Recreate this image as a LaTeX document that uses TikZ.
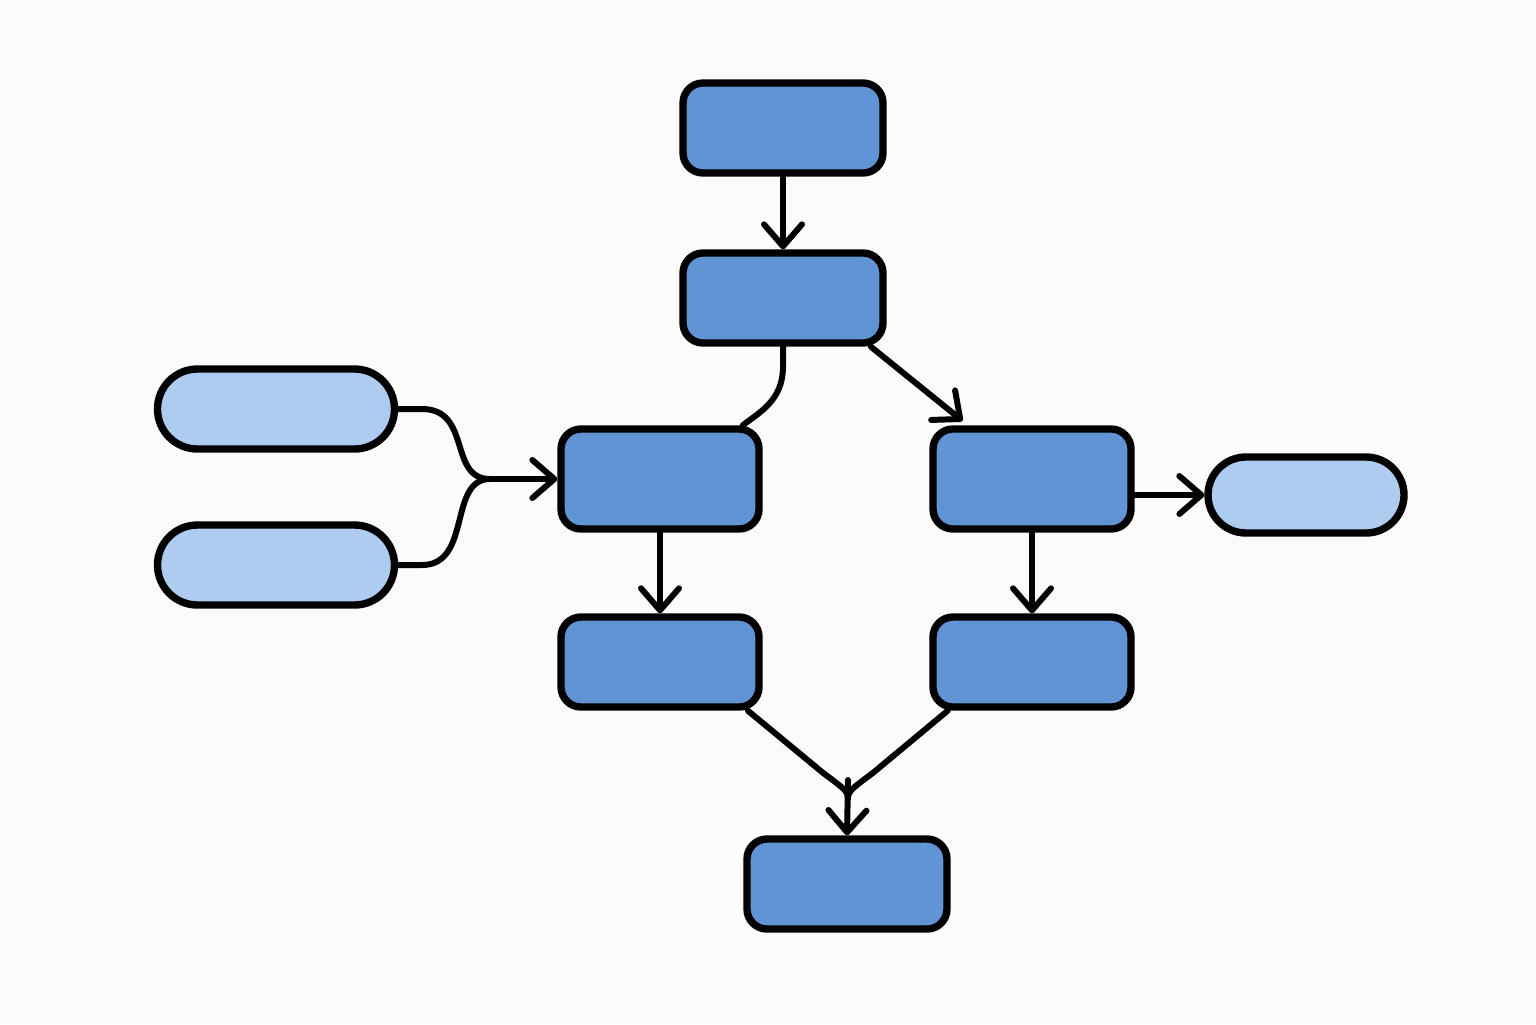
\documentclass[tikz,border=0pt]{standalone}
\usetikzlibrary{arrows.meta}
\definecolor{boxblue}{RGB}{96,148,212}
\definecolor{pillblue}{RGB}{174,204,240}
\definecolor{paper}{RGB}{252,251,249}
\tikzset{
  stage/.style={draw=black, line width=2.1pt, fill=boxblue, rounded corners=0.2cm,
    minimum width=2cm, minimum height=0.9cm, inner sep=0pt},
  pill/.style={draw=black, line width=2.1pt, fill=pillblue, rounded corners=0.4cm,
    minimum width=2.37cm, minimum height=0.8cm, inner sep=0pt},
  link/.style={line width=1.7pt, line cap=round, line join=round},
  >={Straight Barb[length=2.2mm,width=3.8mm,round]}
}
\begin{document}
\begin{tikzpicture}
\fill[paper] (0,0) rectangle (15.36,-10.24);
\useasboundingbox (0,0) rectangle (15.36,-10.24);
% main column
\node[stage] (top) at (7.83,-1.28){};
\node[stage] (mid) at (7.83,-2.98){};
\node[stage, minimum width=1.98cm, minimum height=1cm] (lm) at (6.60,-4.79){};
\node[stage, minimum width=1.98cm, minimum height=1cm] (rm) at (10.32,-4.79){};
\node[stage, minimum width=1.98cm] (ll) at (6.60,-6.62){};
\node[stage, minimum width=1.98cm] (rl) at (10.32,-6.62){};
\node[stage] (bot) at (8.47,-8.84){};
% side pills
\node[pill] (p1) at (2.76,-4.09){};
\node[pill] (p2) at (2.76,-5.65){};
\node[pill, minimum width=1.96cm, minimum height=0.76cm, rounded corners=0.38cm] (p3) at (13.06,-4.95){};
\coordinate (join) at (4.90,-4.79);
\coordinate (meet) at (8.48,-7.98);
% connectors
\draw[link,->] (top) -- (mid);
\draw[link] (mid.south) -- ++(0,-0.2) .. controls (7.83,-4.00) and (7.60,-4.12) .. (lm.33);
\draw[link,->,shorten >=2pt] (mid.-29) -- (rm.140);
\draw[link] (p1.east) -- (4.22,-4.09) .. controls (4.72,-4.09) and (4.48,-4.79) .. (join);
\draw[link] (p2.east) -- (4.22,-5.65) .. controls (4.72,-5.65) and (4.48,-4.79) .. (join);
\draw[link,->] (join) -- (lm.west);
\draw[link,->] (lm) -- (ll);
\draw[link,->] (rm) -- (rl);
\draw[link,->] (rm.east |- p3.west) -- (p3.west);
\draw[link] (ll.-29) -- (8.22,-7.72) .. controls (8.40,-7.86) and (8.48,-7.90) .. (meet);
\draw[link] (rl.-150) -- (8.74,-7.72) .. controls (8.56,-7.86) and (8.48,-7.90) .. (meet);
\draw[link,->] (8.48,-7.80) -- (bot.north);
\end{tikzpicture}
\end{document}
